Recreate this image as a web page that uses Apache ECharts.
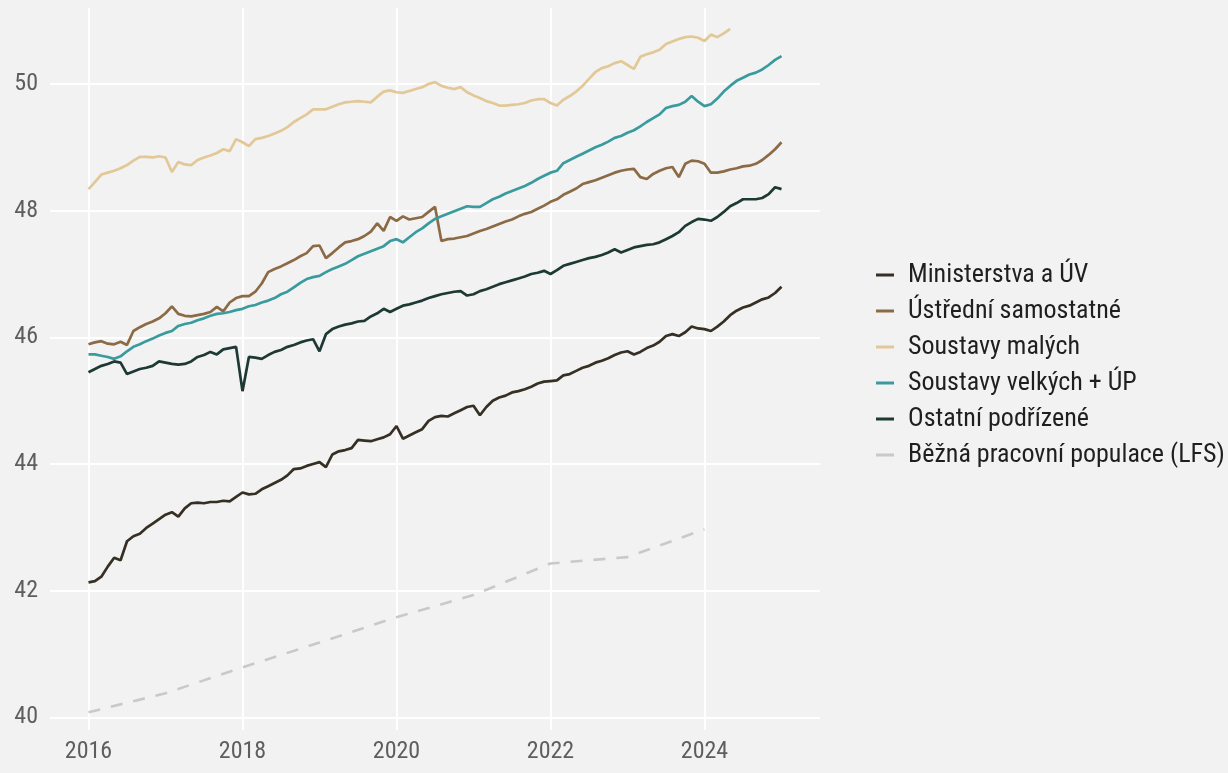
<!DOCTYPE html>
<html>
<head>
<meta charset="utf-8">
<script src="https://cdn.jsdelivr.net/npm/echarts@6/dist/echarts.min.js"></script>
<style>
html,body{margin:0;padding:0;background:#f2f2f2;}
#c{width:1228px;height:773px;}
</style>
</head>
<body>
<div id="c"></div>
<script>
// Monthly series start January 2016
const startYear = 2016;
const seriesNames = ['Ministerstva a ÚV','Ústřední samostatné','Soustavy malých','Soustavy velkých + ÚP','Ostatní podřízené','Běžná pracovní populace (LFS)'];

const ministerstva = [42.13,42.15,42.22,42.38,42.52,42.48,42.78,42.86,42.9,42.99,43.06,43.13,
43.2,43.24,43.17,43.3,43.38,43.39,43.38,43.4,43.4,43.42,43.41,43.48,
43.55,43.52,43.53,43.6,43.65,43.7,43.75,43.82,43.92,43.93,43.97,44.0,
44.03,43.95,44.15,44.2,44.22,44.25,44.38,44.37,44.36,44.39,44.42,44.47,
44.6,44.4,44.45,44.5,44.55,44.68,44.74,44.76,44.75,44.8,44.85,44.9,
44.92,44.77,44.9,45.0,45.05,45.08,45.13,45.15,45.18,45.22,45.27,45.3,
45.31,45.32,45.4,45.42,45.47,45.52,45.55,45.6,45.63,45.67,45.72,45.76,
45.78,45.73,45.77,45.83,45.87,45.93,46.02,46.05,46.02,46.08,46.17,46.14,
46.13,46.1,46.17,46.25,46.35,46.42,46.47,46.5,46.55,46.6,46.63,46.7,
46.8];

const ustredni = [45.89,45.92,45.94,45.9,45.89,45.93,45.88,46.1,46.16,46.21,46.25,46.3,
46.38,46.49,46.37,46.34,46.33,46.35,46.37,46.4,46.48,46.41,46.55,46.62,
46.65,46.65,46.72,46.85,47.03,47.08,47.12,47.17,47.22,47.28,47.33,47.44,
47.45,47.25,47.33,47.42,47.5,47.52,47.55,47.6,47.67,47.8,47.68,47.9,
47.84,47.91,47.86,47.88,47.9,47.98,48.06,47.52,47.55,47.56,47.58,47.6,
47.64,47.68,47.71,47.75,47.79,47.83,47.86,47.91,47.95,47.98,48.03,48.08,
48.14,48.18,48.25,48.3,48.35,48.42,48.45,48.48,48.52,48.56,48.6,48.63,
48.65,48.66,48.53,48.5,48.58,48.63,48.67,48.69,48.53,48.74,48.79,48.78,
48.74,48.6,48.6,48.62,48.65,48.67,48.7,48.71,48.74,48.8,48.88,48.97,
49.08];

const soustavyMalych = [48.34,48.45,48.57,48.6,48.63,48.67,48.72,48.79,48.85,48.85,48.84,48.86,
48.84,48.61,48.77,48.73,48.72,48.8,48.84,48.87,48.91,48.97,48.94,49.13,
49.08,49.02,49.13,49.15,49.18,49.22,49.26,49.32,49.4,49.46,49.52,49.6,
49.6,49.6,49.64,49.68,49.71,49.72,49.73,49.72,49.71,49.8,49.88,49.9,
49.87,49.86,49.89,49.92,49.95,50.0,50.03,49.97,49.94,49.92,49.95,49.87,
49.82,49.78,49.73,49.7,49.66,49.66,49.67,49.68,49.7,49.74,49.76,49.76,
49.7,49.66,49.75,49.81,49.88,49.97,50.08,50.19,50.25,50.28,50.33,50.36,
50.3,50.24,50.43,50.47,50.5,50.54,50.63,50.67,50.71,50.74,50.75,50.73,
50.68,50.78,50.74,50.8,50.87];

const soustavyVelkych = [45.73,45.73,45.71,45.69,45.66,45.7,45.78,45.85,45.89,45.94,45.98,46.03,
46.07,46.1,46.18,46.21,46.23,46.27,46.3,46.34,46.37,46.38,46.4,46.43,
46.45,46.49,46.51,46.55,46.58,46.62,46.68,46.72,46.79,46.86,46.92,46.95,
46.97,47.03,47.08,47.12,47.16,47.22,47.28,47.32,47.36,47.4,47.44,47.52,
47.55,47.5,47.58,47.66,47.72,47.8,47.87,47.91,47.95,47.99,48.03,48.07,
48.06,48.06,48.12,48.18,48.22,48.27,48.31,48.35,48.39,48.44,48.5,48.55,
48.6,48.63,48.75,48.8,48.85,48.9,48.95,49.0,49.04,49.09,49.15,49.18,
49.23,49.27,49.33,49.4,49.46,49.52,49.62,49.65,49.67,49.72,49.81,49.72,
49.65,49.68,49.77,49.88,49.97,50.05,50.1,50.15,50.18,50.23,50.3,50.38,
50.44];

const ostatni = [45.45,45.5,45.55,45.58,45.62,45.6,45.42,45.46,45.5,45.52,45.55,45.62,
45.6,45.58,45.57,45.58,45.62,45.69,45.72,45.77,45.73,45.81,45.83,45.85,
45.15,45.69,45.68,45.66,45.72,45.77,45.8,45.85,45.88,45.92,45.95,45.97,
45.78,46.05,46.13,46.17,46.2,46.22,46.25,46.26,46.33,46.38,46.45,46.4,
46.45,46.5,46.52,46.55,46.58,46.62,46.65,46.68,46.7,46.72,46.73,46.66,
46.68,46.73,46.76,46.8,46.84,46.87,46.9,46.93,46.96,47.0,47.02,47.05,
47.0,47.06,47.13,47.16,47.19,47.22,47.25,47.27,47.3,47.34,47.39,47.34,
47.38,47.42,47.44,47.46,47.47,47.5,47.55,47.6,47.66,47.76,47.82,47.87,
47.86,47.84,47.9,47.98,48.07,48.12,48.18,48.18,48.18,48.2,48.26,48.37,
48.34];

const lfsYears = [2016,2017,2018,2019,2020,2021,2022,2023,2024];
const lfsValues = [40.08,40.38,40.79,41.18,41.58,41.93,42.43,42.53,42.97];

const xTickYears = [2016,2018,2020,2022,2024];
const yTicks = [40,42,44,46,48,50];

function monthly(vals){ return vals.map((v,i)=>[startYear + i/12, v]); }

const colors = ['#352f24','#8b6a45','#e2c896','#3a9b9e','#1d3933','#c9c9c9'];
const fontFam = "'Roboto Condensed','Liberation Sans Narrow','DejaVu Sans Condensed',Roboto,sans-serif";

const chart = echarts.init(document.getElementById('c'), null, {renderer:'canvas'});
const lineW = 2.7;
chart.setOption({
  backgroundColor:'#f2f2f2',
  animation:false,
  color: colors,
  grid:{left:50, right:408, top:8, bottom:43},
  xAxis:{
    type:'value', min:2015.5, max:2025.5, splitNumber:5,
    axisLine:{show:false}, axisTick:{show:false},
    axisLabel:{color:'#5e5e5e', fontSize:24, fontFamily:fontFam, margin:10,
      formatter:v=> xTickYears.includes(Math.round(v*1000)/1000) ? String(Math.round(v)) : ''},
    splitLine:{show:true, showMinLine:false, showMaxLine:false, lineStyle:{color:'#ffffff', width:2}}
  },
  yAxis:{
    type:'value', min:39.8, max:51.2, splitNumber:5,
    axisLine:{show:false}, axisTick:{show:false},
    axisLabel:{color:'#5e5e5e', fontSize:24, fontFamily:fontFam, margin:12,
      formatter:v=> yTicks.includes(Math.round(v*1000)/1000) ? String(Math.round(v)) : ''},
    splitLine:{show:true, showMinLine:false, showMaxLine:false, lineStyle:{color:'#ffffff', width:2}}
  },
  legend:{
    orient:'vertical', left:871, top:257,
    itemWidth:18, itemHeight:14, itemGap:10,
    icon:'path://M0,5.5L18,5.5L18,8.5L0,8.5Z',
    textStyle:{color:'#1f1f1f', fontSize:26, fontFamily:fontFam, padding:[0,0,0,9]},
    data:seriesNames
  },
  series:[
    {name:seriesNames[5], type:'line', symbol:'none', data:lfsYears.map((y,i)=>[y,lfsValues[i]]),
      lineStyle:{width:2.6, type:[12,11], color:colors[5]}, itemStyle:{color:colors[5]}, z:1},
    {name:seriesNames[0], type:'line', symbol:'none', data:monthly(ministerstva),
      lineStyle:{width:lineW, color:colors[0]}, itemStyle:{color:colors[0]}, z:2},
    {name:seriesNames[1], type:'line', symbol:'none', data:monthly(ustredni),
      lineStyle:{width:lineW, color:colors[1]}, itemStyle:{color:colors[1]}, z:2},
    {name:seriesNames[2], type:'line', symbol:'none', data:monthly(soustavyMalych),
      lineStyle:{width:lineW, color:colors[2]}, itemStyle:{color:colors[2]}, z:2},
    {name:seriesNames[3], type:'line', symbol:'none', data:monthly(soustavyVelkych),
      lineStyle:{width:lineW, color:colors[3]}, itemStyle:{color:colors[3]}, z:2},
    {name:seriesNames[4], type:'line', symbol:'none', data:monthly(ostatni),
      lineStyle:{width:lineW, color:colors[4]}, itemStyle:{color:colors[4]}, z:2}
  ]
});
</script>
</body>
</html>
